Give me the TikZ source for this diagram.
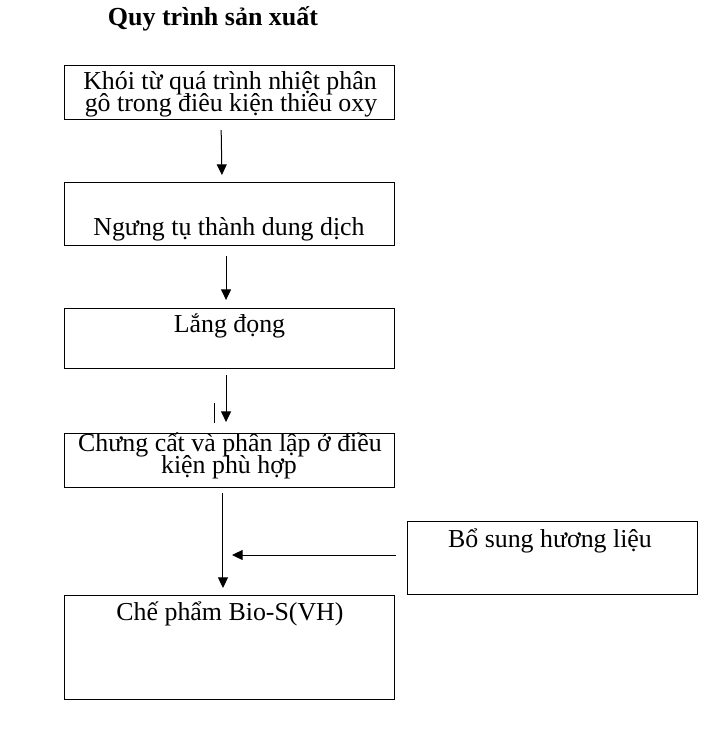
\documentclass[tikz,border=0pt]{standalone}
\usepackage{fontspec}
\setmainfont{Liberation Serif}
\usetikzlibrary{arrows.meta}
\begin{document}
\begin{tikzpicture}[x=0.75pt,y=-0.75pt,
  box/.style={draw,line width=0.75pt,inner sep=0pt,outer sep=0pt},
  txt/.style={anchor=base,inner sep=0pt,font=\fontsize{19.4}{19.4}\selectfont},
  ttl/.style={anchor=base,inner sep=0pt,font=\fontsize{19.5}{19.5}\selectfont\bfseries},
  arr/.style={line width=0.75pt,-{Triangle[length=8pt,width=7.5pt]}},
  tick/.style={line width=0.75pt}]
\useasboundingbox (0,0) rectangle (719,729);
% boxes
\node[box,minimum width=329.5*0.75pt,minimum height=54.5*0.75pt] (b1) at (229.25,92.25) {};
\node[box,minimum width=329.5*0.75pt,minimum height=62.5*0.75pt] (b2) at (229.25,213.75) {};
\node[box,minimum width=329.5*0.75pt,minimum height=60*0.75pt] (b3) at (229.25,338) {};
\node[box,minimum width=329.5*0.75pt,minimum height=54*0.75pt] (b4) at (229.25,460) {};
\node[box,minimum width=290.5*0.75pt,minimum height=73.5*0.75pt] (b5) at (552.5,558) {};
\node[box,minimum width=329.5*0.75pt,minimum height=104*0.75pt] (b6) at (229.25,647) {};
% texts
\node[ttl] (title) at (213,25) {Quy trình sản xuất};
\node[txt] (t1a) at (230,89) {Khói từ quá trình nhiệt phân};
\node[txt] (t1b) at (231,111) {gô trong điêu kiện thiêu oxy};
\node[txt] (t2) at (229,235) {Ngưng tụ thành dung dịch};
\node[txt] (t3) at (229.5,332) {Lắng đọng};
\node[txt] (t4a) at (230,451) {Chưng cất và phân lập ở điều};
\node[txt] (t4b) at (229,473) {kiện phù hợp};
\node[txt] (t5) at (550,547) {Bổ sung hương liệu};
\node[txt] (t6) at (230,620) {Chế phẩm Bio-S(VH)};
% connectors
\draw[arr,shorten <=7.9pt,shorten >=5.6pt] ([xshift=-6.2pt]b1.south) -- ([xshift=-5.4pt]b2.north);
\draw[arr,shorten <=8.25pt,shorten >=6pt] ([xshift=-2.4pt]b2.south) -- ([xshift=-2.4pt]b3.north);
\draw[arr,shorten <=5.25pt,shorten >=8.25pt] ([xshift=-2.4pt]b3.south) -- ([xshift=-2.4pt]b4.north);
\draw[arr,shorten <=4.5pt,shorten >=5.25pt] ([xshift=-4.7pt]b4.south) -- ([xshift=-4.7pt]b6.north);
\coordinate (j) at (232,555);
\draw[arr,shorten <=8.25pt] ([yshift=2.25pt]b5.west) -- (j);
\coordinate (k1) at (214,403);
\coordinate (k2) at (214,423);
\draw[tick] (k1) -- (k2);
\end{tikzpicture}
\end{document}
